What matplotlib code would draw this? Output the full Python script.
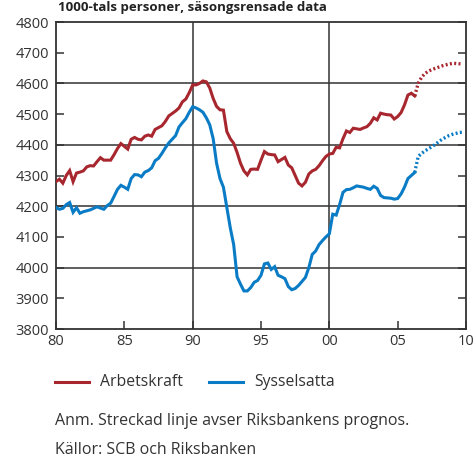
import numpy as np
import matplotlib
matplotlib.use("Agg")
import matplotlib.pyplot as plt

# quarterly data, 1000-tals personer
start_year = 1980.0
arbetskraft = [
    4280, 4288, 4275, 4300, 4316, 4280, 4308, 4311,   # 80-81
    4315, 4328, 4332, 4331, 4345, 4358, 4350, 4350,   # 82-83
    4350, 4368, 4388, 4404, 4395, 4386, 4418, 4424,   # 84-85
    4418, 4416, 4428, 4432, 4428, 4450, 4456, 4462,   # 86-87
    4476, 4494, 4502, 4510, 4520, 4540, 4549, 4570,   # 88-89
    4595, 4595, 4600, 4608, 4605, 4585, 4551, 4525,   # 90-91
    4514, 4513, 4443, 4420, 4405, 4375, 4340, 4315,   # 92-93
    4302, 4320, 4321, 4320, 4350, 4378, 4370, 4368,   # 94-95
    4367, 4345, 4352, 4359, 4334, 4325, 4300, 4275,   # 96-97
    4266, 4278, 4305, 4315, 4320, 4332, 4348, 4362,   # 98-99
    4370, 4372, 4392, 4390, 4420, 4445, 4440, 4454,   # 00-01
    4452, 4450, 4455, 4459, 4470, 4488, 4481, 4503,   # 02-03
    4500, 4498, 4497, 4484, 4492, 4505, 4530, 4562,   # 04-05
    4568, 4559,                                       # 06
]
sysselsatta = [
    4196, 4190, 4193, 4205, 4212, 4180, 4195, 4177,
    4182, 4185, 4188, 4193, 4198, 4194, 4190, 4202,
    4210, 4232, 4255, 4268, 4262, 4255, 4290, 4303,
    4302, 4296, 4311, 4316, 4325, 4348, 4356, 4372,
    4390, 4406, 4418, 4430, 4458, 4472, 4485, 4506,
    4524, 4520, 4514, 4506, 4488, 4465, 4420, 4340,
    4290, 4262, 4196, 4130, 4075, 3970, 3946, 3924,
    3924, 3935, 3952, 3958, 3975, 4012, 4015, 3994,
    4003, 3975, 3970, 3964, 3938, 3928, 3932, 3942,
    3955, 3968, 4000, 4043, 4054, 4075, 4088, 4100,
    4110, 4174, 4171, 4205, 4245, 4254, 4255, 4260,
    4266, 4264, 4262, 4258, 4255, 4265, 4258, 4235,
    4228, 4227, 4226, 4223, 4225, 4240, 4262, 4290,
    4300, 4310,
]
# Riksbankens prognos, 2006 Q2 - 2009 Q4
prognos_start = 2006.25
arbetskraft_prognos = [4559, 4600, 4620, 4632, 4640, 4645, 4649, 4653,
                       4657, 4660, 4663, 4665, 4665, 4664, 4663]
sysselsatta_prognos = [4310, 4362, 4372, 4380, 4387, 4394, 4401, 4410,
                       4418, 4424, 4430, 4434, 4437, 4440, 4441]

xticks = [1980, 1985, 1990, 1995, 2000, 2005, 2010]
xticklabels = ["80", "85", "90", "95", "00", "05", "10"]
yticks = [3800, 3900, 4000, 4100, 4200, 4300, 4400, 4500, 4600, 4700, 4800]

RED = "#a8272f"
BLUE = "#0a7cc6"
TXT = "#333333"
GRID = "#333333"

plt.rcParams['font.family'] = ['Open Sans', 'DejaVu Sans']

fig = plt.figure(figsize=(4.75, 4.58), dpi=100)
ax = fig.add_axes([56 / 475, 1 - 329 / 458, 410 / 475, 307 / 458])

t = start_year + np.arange(len(arbetskraft)) / 4
tp = prognos_start + np.arange(len(arbetskraft_prognos)) / 4

ax.plot(t, arbetskraft, color=RED, lw=2.2, solid_joinstyle='miter', zorder=3)
ax.plot(t, sysselsatta, color=BLUE, lw=2.2, solid_joinstyle='miter', zorder=3)
ax.plot(tp, arbetskraft_prognos, color=RED, lw=2.4, ls=(0, (0.6, 0.7)), zorder=3)
ax.plot(tp, sysselsatta_prognos, color=BLUE, lw=2.4, ls=(0, (0.6, 0.7)), zorder=3)

ax.set_xlim(1980, 2010)
ax.set_ylim(3800, 4800)

# gridlines only at every second value
for y in [4000, 4200, 4400, 4600]:
    ax.axhline(y, color=GRID, lw=1.1, zorder=1)
for x in [1990, 2000]:
    ax.axvline(x, color=GRID, lw=1.1, zorder=1)

ax.set_xticks(xticks)
ax.set_xticklabels(xticklabels)
ax.set_yticks(yticks)
ax.tick_params(axis='both', direction='in', length=6, width=1.1, color=GRID,
               labelsize=10.5, labelcolor=TXT)
ax.tick_params(axis='y', right=True, pad=5)
ax.tick_params(axis='x', pad=3.5)
for sp in ax.spines.values():
    sp.set_color(GRID)
    sp.set_linewidth(1.3)

# title in the thin strip above the axes
fig.text(58 / 475, 1 - 11 / 458, "1000-tals personer, säsongsrensade data",
         fontsize=9.5, fontweight='bold', color="#222222", va='baseline')

# legend by hand
fig.lines.append(plt.Line2D([55 / 475, 89 / 475], [1 - 382 / 458] * 2,
                            color=RED, lw=2.2, transform=fig.transFigure))
fig.lines.append(plt.Line2D([209 / 475, 243 / 475], [1 - 382 / 458] * 2,
                            color=BLUE, lw=2.2, transform=fig.transFigure))
fig.text(100 / 475, 1 - 382 / 458, "Arbetskraft", fontsize=11.3, color=TXT, va='center')
fig.text(254 / 475, 1 - 382 / 458, "Sysselsatta", fontsize=11.3, color=TXT, va='center')

fig.text(55 / 475, 1 - 421 / 458, "Anm. Streckad linje avser Riksbankens prognos.",
         fontsize=11.5, color=TXT, va='center')
fig.text(55 / 475, 1 - 450 / 458, "Källor: SCB och Riksbanken",
         fontsize=11.5, color=TXT, va='center')

fig.savefig("out.png", dpi=100)
